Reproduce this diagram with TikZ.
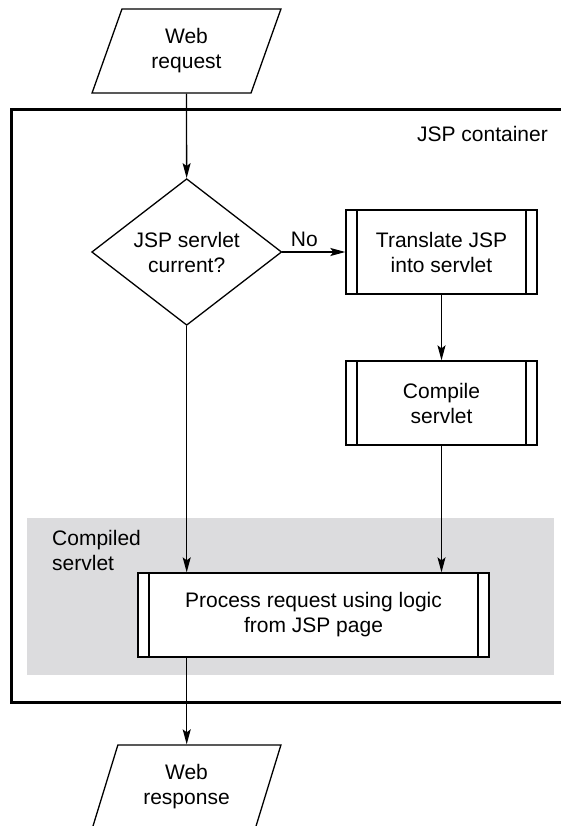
\documentclass[tikz,border=0pt]{standalone}
\usepackage{fontspec}
\setmainfont{Liberation Sans}
\usetikzlibrary{positioning}
\usetikzlibrary{shapes.geometric}
\usetikzlibrary{arrows.meta}
\definecolor{servletgray}{RGB}{220,220,222}
\tikzset{
	io/.style={trapezium, trapezium left angle=70, trapezium right angle=110, trapezium stretches=true, draw, line width=1.3pt, minimum width=189pt, minimum height=84pt, inner sep=0pt, align=center},
	decision/.style={diamond, draw, line width=1.3pt, minimum width=190pt, minimum height=100pt, inner sep=0pt, align=center},
	process/.style={rectangle, draw, fill=white, line width=1.3pt, minimum height=84pt, inner sep=0pt, align=center,
		path picture={
			\draw[line width=1.3pt] ([xshift=11pt]path picture bounding box.north west) -- ([xshift=11pt]path picture bounding box.south west);
			\draw[line width=1.3pt] ([xshift=-11pt]path picture bounding box.north east) -- ([xshift=-11pt]path picture bounding box.south east);
		}},
	flow/.style={-{Stealth[length=15pt,width=8pt,inset=3pt]}, line width=1.3pt}
}

\begin{document}
\begin{tikzpicture}[x=1pt, y=-1pt, font=\fontsize{21}{25}\selectfont]
	\useasboundingbox (0,0) rectangle (561,826);
	\draw[line width=3pt] (11.7,110) rectangle (600,702);
	\fill[servletgray] (26.7,518) rectangle (553.7,675);

	\node[anchor=base east, inner sep=0pt] (cont) at (548,142) {JSP container};
	\node[anchor=north west, inner sep=0pt, align=left] (comp-lbl) at (52,530) {Compiled\\servlet};

	\node[io] (req) at (186.5,51) {Web\\request};
	\node[decision] (check) at (186.7,252) {JSP servlet\\current?};
	\node[process, minimum width=191pt] (trans) at (441.5,252) {Translate JSP\\into servlet};
	\node[process, minimum width=191pt] (comp) at (441.5,403) {Compile\\servlet};
	\node[process, minimum width=351pt] (proc) at (313.5,615) {Process request using logic\\from JSP page};
	\node[io] (resp) at (186.5,787) {Web\\response};

	\draw[flow] (req) -- (check);
	\draw[flow] (check.east) -- node[pos=0.35, above=5pt, inner sep=0pt] {No} (trans.west);
	\draw[flow] (trans) -- (comp);
	\draw[flow] (comp) -- (comp |- proc.north);
	\draw[flow] (check) -- (check |- proc.north);
	\draw[flow] (check |- proc.south) -- (check |- resp.north);
\end{tikzpicture}
\end{document}
